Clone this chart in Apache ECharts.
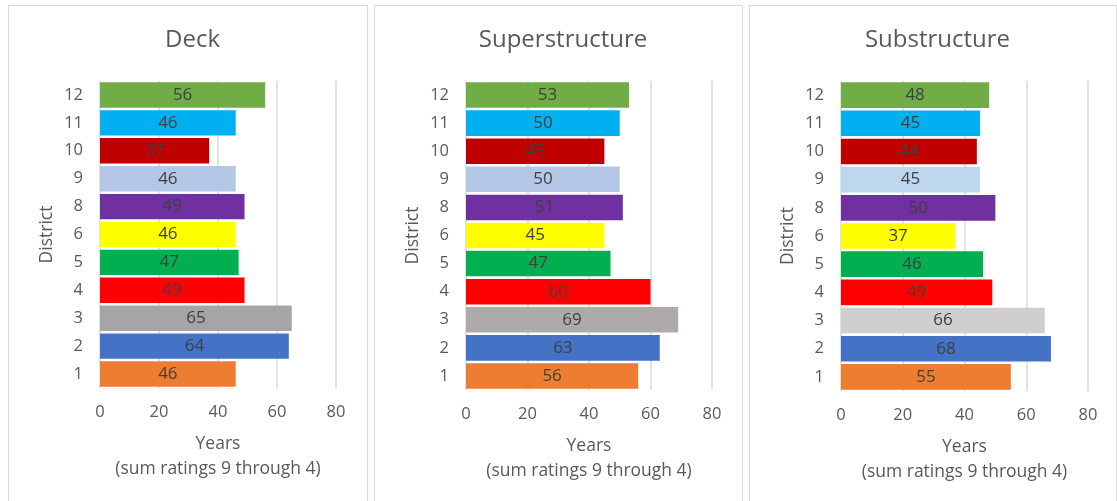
<!DOCTYPE html>
<html>
<head>
<meta charset="utf-8">
<script src="https://cdn.jsdelivr.net/npm/echarts@6/dist/echarts.min.js"></script>
<style>
  html, body { margin: 0; padding: 0; background: #ffffff; }
  #chart { width: 1117px; height: 501px; }
</style>
</head>
<body>
<div id="chart"></div>
<script>
// Districts, bottom to top
const districts = ['1', '2', '3', '4', '5', '6', '8', '9', '10', '11', '12'];

// Years (sum of ratings 9 through 4) per district
const deckYears = [46, 64, 65, 49, 47, 46, 49, 46, 37, 46, 56];
const superYears = [56, 63, 69, 60, 47, 45, 51, 50, 45, 50, 53];
const subYears = [55, 68, 66, 49, 46, 37, 50, 45, 44, 45, 48];

const panelTitles = ['Deck', 'Superstructure', 'Substructure'];
const xTicks = [0, 20, 40, 60, 80];

// District colours (component 3 and 9 shades differ per panel)
const deckColors = ['#ED7D31', '#4472C4', '#A5A5A5', '#FF0000', '#00B050', '#FFFF00', '#7030A0', '#B4C7E7', '#C00000', '#00B0F0', '#70AD47'];
const superColors = ['#ED7D31', '#4472C4', '#AEAAAA', '#FF0000', '#00B050', '#FFFF00', '#7030A0', '#B4C7E7', '#C00000', '#00B0F0', '#70AD47'];
const subColors = ['#ED7D31', '#4472C4', '#D0CECE', '#FF0000', '#00B050', '#FFFF00', '#7030A0', '#BDD7EE', '#C00000', '#00B0F0', '#70AD47'];

const FONT = '"Open Sans", "Liberation Sans", sans-serif';
const TXT = '#595959';

const panels = [
  { box: [8, 5, 359, 520], grid: { left: 100, top: 81, width: 236, height: 307 }, values: deckYears, colors: deckColors },
  { box: [374, 5, 368, 520], grid: { left: 466, top: 81, width: 246, height: 309 }, values: superYears, colors: superColors },
  { box: [749, 5, 367, 520], grid: { left: 841, top: 81, width: 247, height: 310 }, values: subYears, colors: subColors }
];

const chart = echarts.init(document.getElementById('chart'), null, { renderer: 'canvas' });

const option = {
  backgroundColor: '#ffffff',
  animation: false,
  textStyle: { fontFamily: FONT },
  graphic: panels.map(p => ({
    type: 'rect',
    shape: { x: p.box[0] + 0.5, y: p.box[1] + 0.5, width: p.box[2], height: p.box[3] },
    style: { fill: 'none', stroke: '#D9D9D9', lineWidth: 1 },
    silent: true,
    z: -1
  })),
  title: panels.map((p, i) => ({
    text: panelTitles[i],
    left: p.box[0] + p.box[2] / 2,
    top: 23,
    textAlign: 'center',
    textStyle: { fontFamily: FONT, fontSize: 24, fontWeight: 'normal', color: TXT }
  })),
  grid: panels.map(p => Object.assign({ containLabel: false }, p.grid)),
  xAxis: panels.map((p, i) => ({
    type: 'value',
    gridIndex: i,
    min: xTicks[0],
    max: xTicks[xTicks.length - 1],
    interval: xTicks[1] - xTicks[0],
    axisLine: { show: false },
    axisTick: { show: false },
    splitLine: { show: true, lineStyle: { color: '#D9D9D9', width: 1.5 } },
    axisLabel: { color: TXT, fontSize: 16.5, margin: 16, fontFamily: FONT },
    name: 'Years\n(sum ratings 9 through 4)',
    nameLocation: 'middle',
    nameGap: 44,
    nameTextStyle: { color: TXT, fontSize: 17.5, lineHeight: 25, fontFamily: FONT }
  })),
  yAxis: panels.map((p, i) => ({
    type: 'category',
    gridIndex: i,
    data: districts,
    axisLine: { show: false },
    axisTick: { show: false },
    axisLabel: { color: TXT, fontSize: 16.5, margin: 17, fontFamily: FONT },
    name: 'District',
    nameLocation: 'middle',
    nameRotate: 90,
    nameGap: 44,
    nameTextStyle: { color: TXT, fontSize: 17.5, fontFamily: FONT }
  })),
  series: panels.map((p, i) => ({
    type: 'bar',
    xAxisIndex: i,
    yAxisIndex: i,
    barCategoryGap: '9%',
    data: p.values.map((v, k) => ({ value: v, itemStyle: { color: p.colors[k] } })),
    label: {
      show: true,
      position: 'inside',
      color: '#404040',
      fontSize: 17,
      fontFamily: FONT
    }
  }))
};

chart.setOption(option);
</script>
</body>
</html>
